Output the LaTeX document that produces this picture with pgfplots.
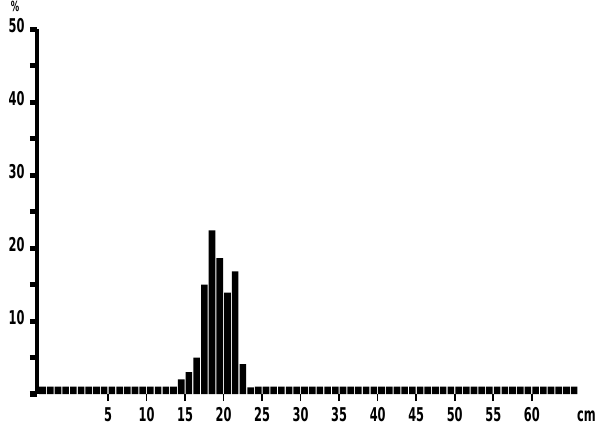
\documentclass[border=0pt]{standalone}
\usepackage{fontspec}
\setmainfont{DejaVu Sans}[FakeStretch=0.6]
\usepackage{pgfplots}
\pgfplotsset{compat=1.18}
\usetikzlibrary{calc}
\begin{document}
\begin{tikzpicture}
\begin{axis}[
  name=ax, at={(0,0)}, anchor=south west,
  scale only axis, width=541bp, height=365bp,
  xmin=-4.22, xmax=66, ymin=0, ymax=50,
  clip=false,
  axis x line=bottom, axis y line=left,
  x axis line style={draw=none},
  y axis line style={-, line width=4bp},
  tick align=outside,
  major tick length=7bp, minor tick length=7bp,
  ytick={10,20,30,40,50},
  minor ytick={0,5,15,25,35,45},
  ytick style={line width=5bp, black},
  xtick={5,10,...,60},
  xtick style={line width=1.6bp, black},
  /pgf/number format/assume math mode=true,
  tick label style={font=\bfseries\fontsize{19bp}{19bp}\selectfont},
  yticklabel style={yshift=3bp, xshift=-2bp},
  xticklabel style={yshift=-3bp},
  ybar, bar width=0.86,
]
\addplot[fill=black, draw=none] coordinates {
(-3.5,1) (-2.5,1) (-1.5,1) (-0.5,1) (0.5,1) (1.5,1) (2.5,1) (3.5,1) (4.5,1)
(5.5,1) (6.5,1) (7.5,1) (8.5,1) (9.5,1) (10.5,1) (11.5,1) (12.5,1) (13.5,1)
(14.5,2) (15.5,3) (16.5,5) (17.5,15) (18.5,22.4) (19.5,18.6) (20.5,13.9)
(21.5,16.8) (22.5,4.1) (23.5,0.9)
(24.5,1) (25.5,1) (26.5,1) (27.5,1) (28.5,1) (29.5,1) (30.5,1) (31.5,1)
(32.5,1) (33.5,1) (34.5,1) (35.5,1) (36.5,1) (37.5,1) (38.5,1) (39.5,1)
(40.5,1) (41.5,1) (42.5,1) (43.5,1) (44.5,1) (45.5,1) (46.5,1) (47.5,1)
(48.5,1) (49.5,1) (50.5,1) (51.5,1) (52.5,1) (53.5,1) (54.5,1) (55.5,1)
(56.5,1) (57.5,1) (58.5,1) (59.5,1) (60.5,1) (61.5,1) (62.5,1) (63.5,1)
(64.5,1) (65.5,1)
};
\end{axis}
\node[font=\bfseries\fontsize{14bp}{14bp}\selectfont, anchor=north, inner sep=0pt] at ($(ax.north west)+(-22bp,28bp)$) {\%};
\node[font=\bfseries\fontsize{19bp}{19bp}\selectfont, anchor=east, inner sep=0pt] at ($(ax.south east)+(18bp,-22bp)$) {cm};
\pgfresetboundingbox
\path[use as bounding box] ($(ax.south west)+(-37bp,-32bp)$) rectangle ($(ax.south west)+(562bp,394bp)$);
\end{tikzpicture}
\end{document}
